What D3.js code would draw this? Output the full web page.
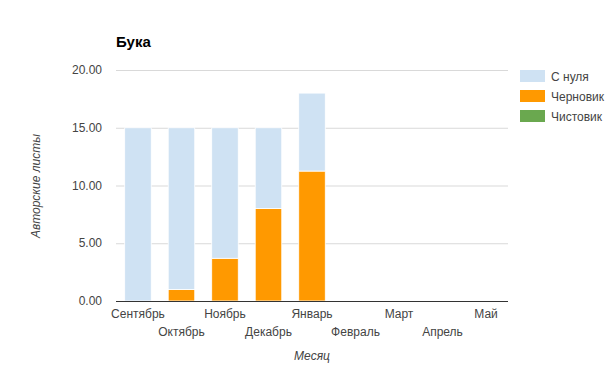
<!DOCTYPE html>
<html><head><meta charset="utf-8">
<script src="https://cdn.jsdelivr.net/npm/d3@7"></script>
<style>body{margin:0;background:#fff;}svg{display:block;font-family:"Liberation Sans",Arial,sans-serif;}</style>
</head><body><svg id="c" width="605" height="365"></svg>
<script>
const months = ["Сентябрь","Октябрь","Ноябрь","Декабрь","Январь","Февраль","Март","Апрель","Май"];
const seriesNames = ["С нуля","Черновик","Чистовик"];
const colors = ["#cfe2f3","#ff9900","#6aa84f"];
const draft = [0,1.0,3.7,8.0,11.25,0,0,0,0];
const fromScratch = [15,14,11.3,7.0,6.75,0,0,0,0];
const clean = [0,0,0,0,0,0,0,0,0];
const yTicks = [0,5,10,15,20];

const svg = d3.select("#c");
const L=116,R=508,T=70,B=301;
const x = d3.scaleBand().domain(months).range([L,R]).paddingInner(0.39).paddingOuter(0.2);
const y = d3.scaleLinear().domain([0,20]).range([B,T]);

svg.append("g").selectAll("line").data(yTicks.filter(d=>d>0)).join("line")
  .attr("x1",L).attr("x2",R).attr("y1",d=>y(d)+0.5).attr("y2",d=>y(d)+0.5).attr("stroke","#d9d9d9");
svg.append("g").selectAll("text").data(yTicks).join("text")
  .attr("x",102).attr("y",d=>y(d)+4).attr("text-anchor","end").attr("font-size",12).attr("fill","#444")
  .text(d=>d.toFixed(2));

const data = months.map((m,i)=>({m, c:clean[i], d:draft[i], s:fromScratch[i]}));
const stack = d3.stack().keys(["c","d","s"])(data);
const keyColor = {c:colors[2], d:colors[1], s:colors[0]};
stack.forEach(layer=>{
  svg.append("g").selectAll("rect").data(layer.filter(p=>p[1]-p[0]>0)).join("rect")
    .attr("x",p=>x(p.data.m)).attr("width",x.bandwidth())
    .attr("y",p=>y(p[1])).attr("height",p=>y(p[0])-y(p[1]))
    .attr("fill",keyColor[layer.key]).attr("stroke","#fff").attr("stroke-width",0.8);
});

svg.append("line").attr("x1",L).attr("x2",R).attr("y1",B+0.5).attr("y2",B+0.5).attr("stroke","#333").attr("stroke-width",1);

svg.append("g").selectAll("text").data(months).join("text")
  .attr("x",d=>x(d)+x.bandwidth()/2).attr("y",(d,i)=>i%2===0?318:336)
  .attr("text-anchor","middle").attr("font-size",12).attr("fill","#444").text(d=>d);

svg.append("text").attr("x",312).attr("y",360).attr("text-anchor","middle").attr("font-size",12)
  .attr("font-style","italic").attr("fill","#444").text("Месяц");
svg.append("text").attr("transform","translate(40,186) rotate(-90)").attr("text-anchor","middle")
  .attr("font-size",12).attr("font-style","italic").attr("fill","#444").text("Авторские листы");
svg.append("text").attr("x",116).attr("y",47).attr("font-size",15).attr("font-weight","bold").attr("fill","#000").text("Бука");

const lg = svg.append("g").selectAll("g").data(seriesNames).join("g")
  .attr("transform",(d,i)=>`translate(520,${70+i*20})`);
lg.append("rect").attr("width",25).attr("height",12).attr("fill",(d,i)=>colors[i]);
lg.append("text").attr("x",31).attr("y",10.5).attr("font-size",12).attr("fill","#444").text(d=>d);
</script></body></html>
